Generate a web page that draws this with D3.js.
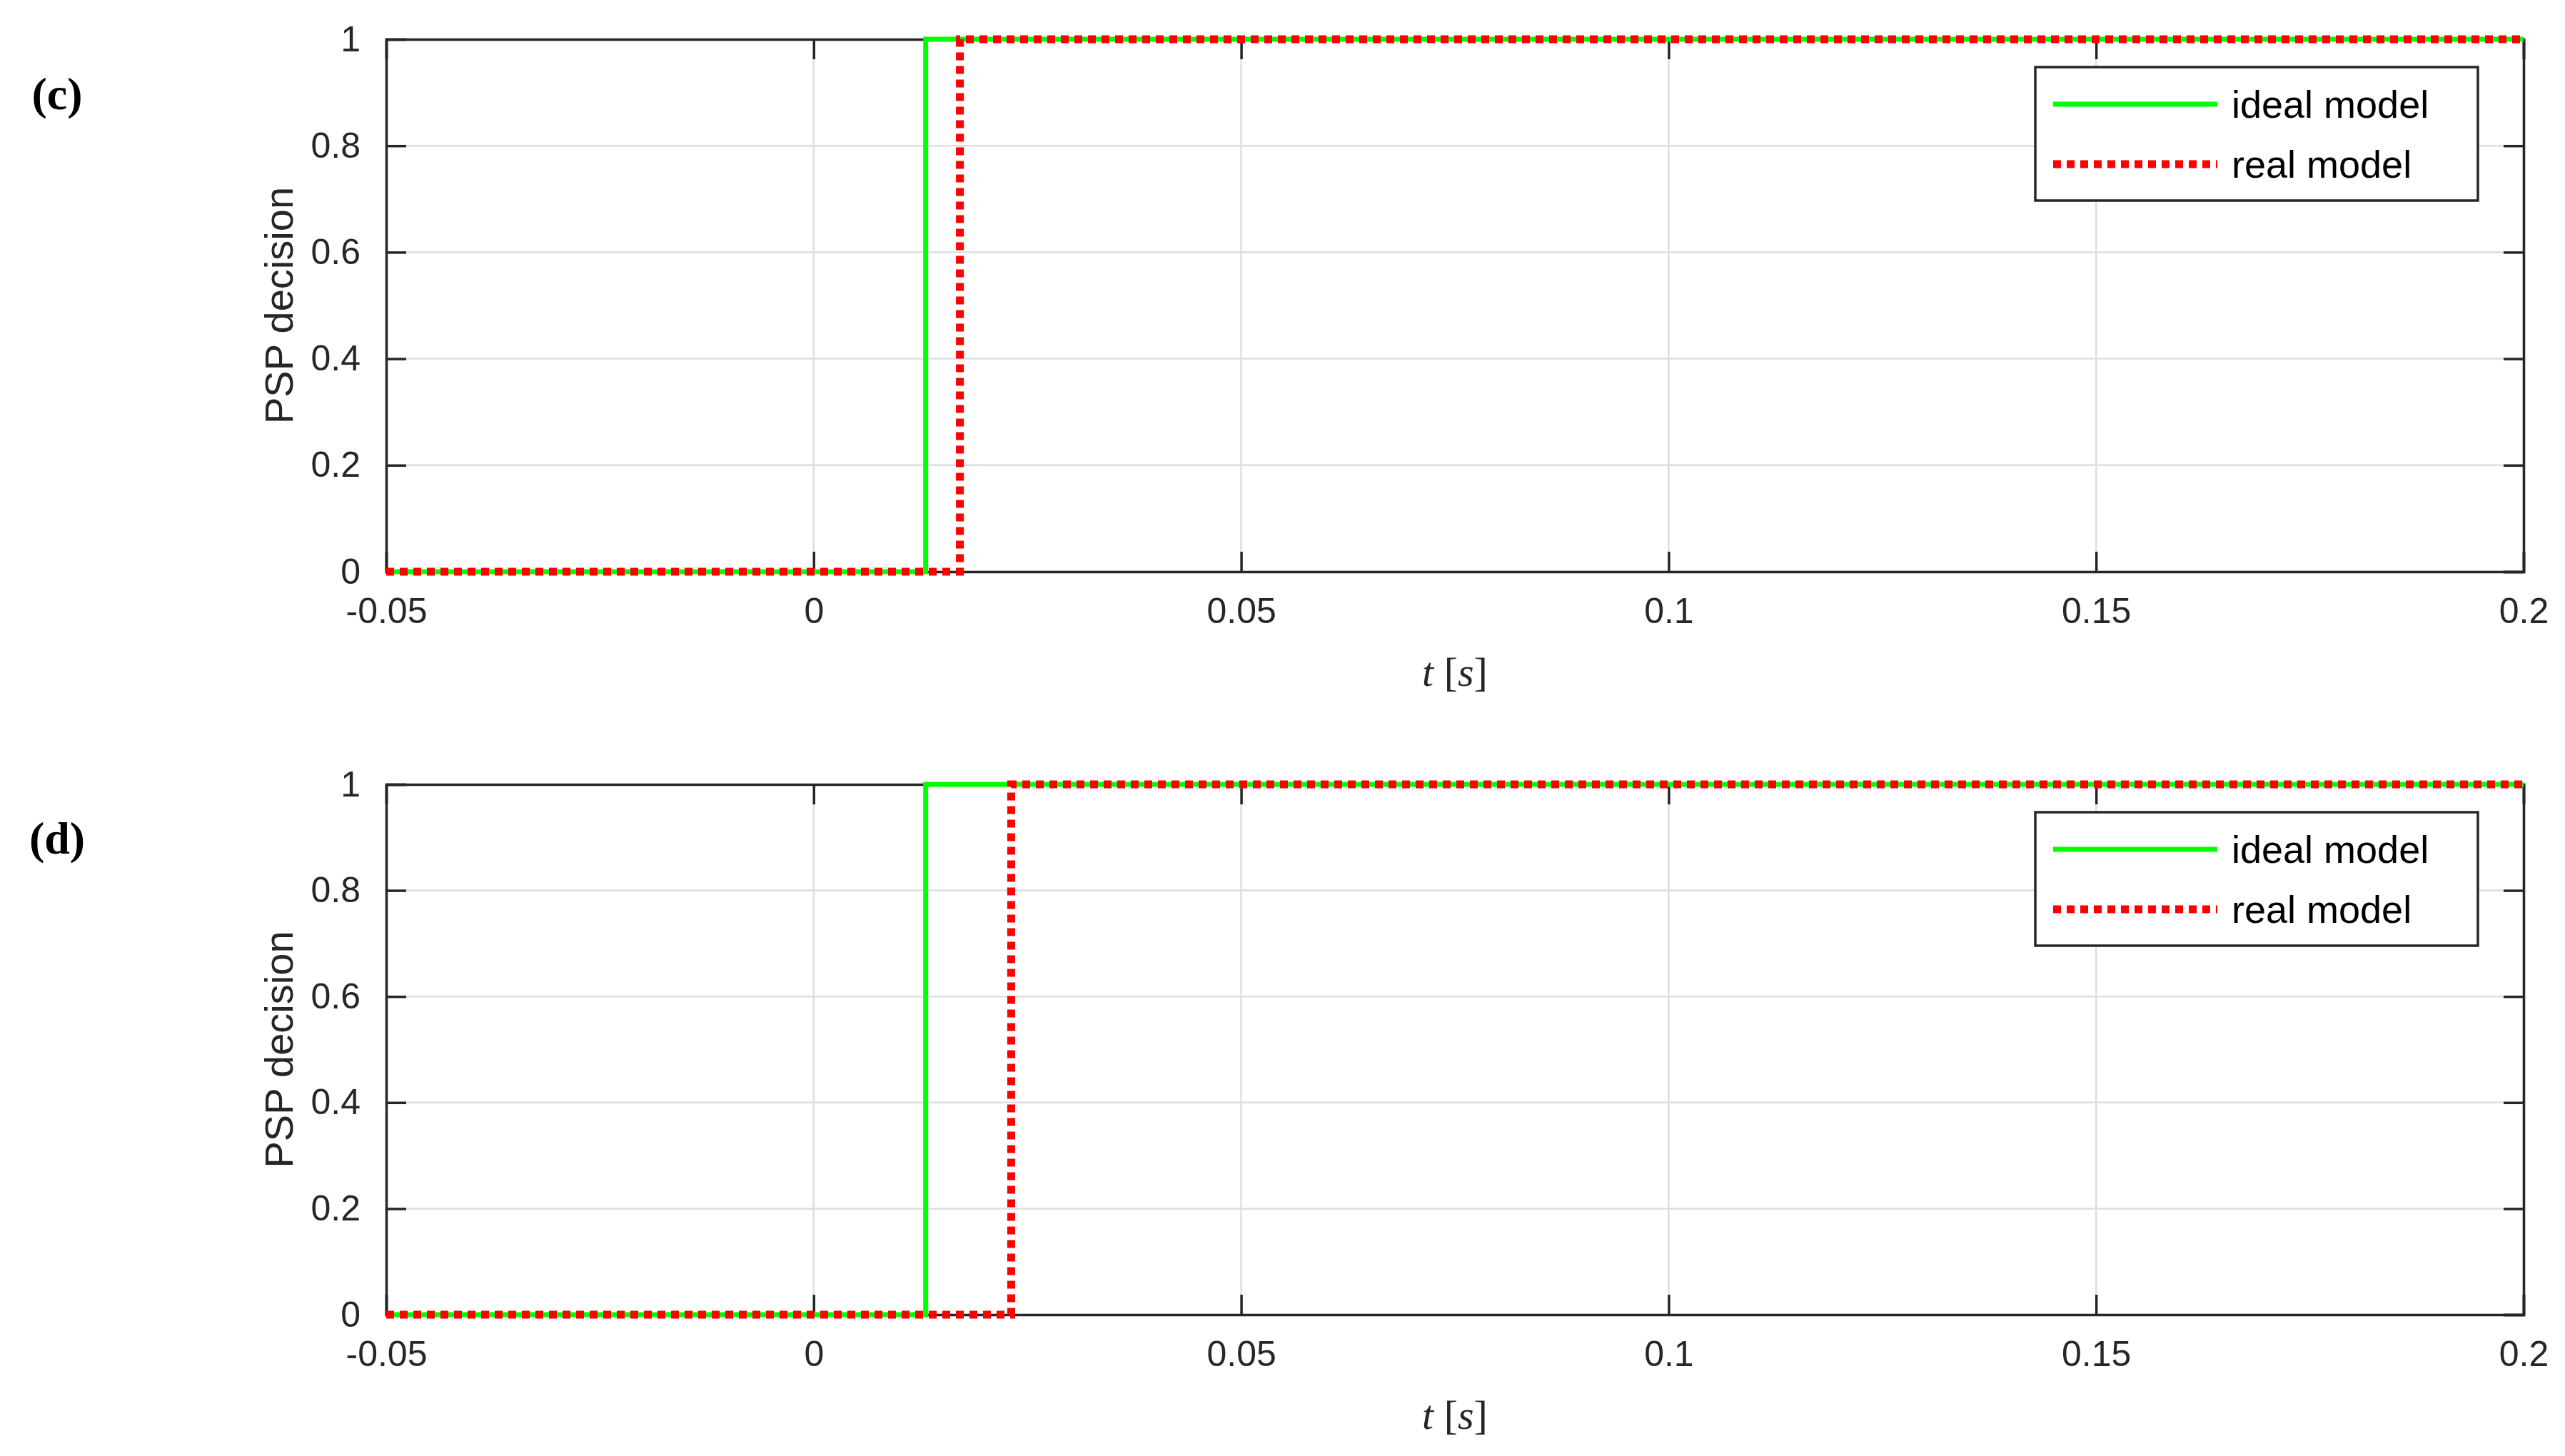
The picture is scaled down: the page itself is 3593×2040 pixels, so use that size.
<!DOCTYPE html>
<html><head><meta charset="utf-8">
<script src="https://cdn.jsdelivr.net/npm/d3@7"></script>
<style>body{margin:0;background:#fff}</style></head>
<body><svg id="c" width="3593" height="2040"></svg>
<script>
const xTicks=[-0.05,0,0.05,0.1,0.15,0.2];
const yTicks=[0,0.2,0.4,0.6,0.8,1];
const panelLabels=["(c)","(d)"];
const idealSwitch=[0.0131,0.0131];
const realSwitch=[0.0171,0.0231];
const seriesNames=["ideal model","real model"];

const svg=d3.select("#c");
const L=541,R=3535;
const panels=[{top:55,bot:801},{top:1099,bot:1842}];
const x=d3.scaleLinear().domain([-0.05,0.2]).range([L,R]);
const fmt=d=>d===0?"0":String(d).replace(/^(-?)0\./,"$10.");
panels.forEach((p,i)=>{
  const y=d3.scaleLinear().domain([0,1]).range([p.bot,p.top]);
  const g=svg.append("g");
  // grid
  g.selectAll(".gx").data(xTicks).join("line").attr("x1",d=>x(d)).attr("x2",d=>x(d)).attr("y1",p.top).attr("y2",p.bot).attr("stroke","#dedede").attr("stroke-width",2.5);
  g.selectAll(".gy").data(yTicks).join("line").attr("y1",d=>y(d)).attr("y2",d=>y(d)).attr("x1",L).attr("x2",R).attr("stroke","#dedede").attr("stroke-width",2.5);
  // axes
  const ax=g.append("g").attr("transform",`translate(0,${p.bot})`).call(d3.axisBottom(x).tickValues(xTicks).tickSize(-28).tickPadding(36).tickFormat(fmt));
  const axT=g.append("g").attr("transform",`translate(0,${p.top})`).call(d3.axisTop(x).tickValues(xTicks).tickSize(-28).tickFormat(""));
  const ay=g.append("g").attr("transform",`translate(${L},0)`).call(d3.axisLeft(y).tickValues(yTicks).tickSize(-28).tickPadding(36).tickFormat(d=>String(d)));
  const ayR=g.append("g").attr("transform",`translate(${R},0)`).call(d3.axisRight(y).tickValues(yTicks).tickSize(-28).tickFormat(""));
  [ax,axT,ay,ayR].forEach(a=>{a.selectAll("path,line").attr("stroke","#262626").attr("stroke-width",3.5);
    a.selectAll("text").attr("fill","#262626").attr("font-family","Liberation Sans, Arial").attr("font-size",50);});
  ax.selectAll("text").attr("dy","0.71em");
  // lines
  const line=d3.line().x(d=>x(d[0])).y(d=>y(d[1]));
  const gd=[[-0.05,0],[idealSwitch[i],0],[idealSwitch[i],1],[0.2,1]];
  const rd=[[-0.05,0],[realSwitch[i],0],[realSwitch[i],1],[0.2,1]];
  g.append("path").attr("d",line(gd)).attr("fill","none").attr("stroke","#00ff00").attr("stroke-width",7);
  g.append("path").attr("d",line(rd)).attr("fill","none").attr("stroke","#ff0000").attr("stroke-width",11).attr("stroke-dasharray","11 8");
  // labels
  svg.append("text").attr("x",80).attr("y",(p.top+p.bot)/2-275).attr("text-anchor","middle").attr("font-family","Liberation Serif").attr("font-weight","bold").attr("font-size",64).attr("fill","#000").text(panelLabels[i]);
  svg.append("text").attr("transform",`translate(410,${(p.top+p.bot)/2}) rotate(-90)`).attr("text-anchor","middle").attr("font-family","Liberation Sans, Arial").attr("font-size",56).attr("fill","#262626").text("PSP decision");
  const xl=svg.append("text").attr("x",(L+R)/2).attr("y",p.bot+160).attr("text-anchor","middle").attr("font-family","Liberation Serif").attr("font-size",58).attr("fill","#262626");
  xl.append("tspan").attr("font-style","italic").text("t");
  xl.append("tspan").text(" [");
  xl.append("tspan").attr("font-style","italic").text("s");
  xl.append("tspan").text("]");
  // legend
  const lx=2851,ly=p.top+39,lw=620,lh=187;
  const lg=svg.append("g");
  lg.append("rect").attr("x",lx).attr("y",ly).attr("width",lw).attr("height",lh).attr("fill","#fff").attr("stroke","#262626").attr("stroke-width",3.5);
  const items=[{n:seriesNames[0],c:"#00ff00",w:7,da:null},{n:seriesNames[1],c:"#ff0000",w:11,da:"11 8"}];
  items.forEach((it,k)=>{
    const yy=ly+52+k*84;
    lg.append("line").attr("x1",lx+25).attr("x2",lx+255).attr("y1",yy).attr("y2",yy).attr("stroke",it.c).attr("stroke-width",it.w).attr("stroke-dasharray",it.da);
    lg.append("text").attr("x",lx+275).attr("y",yy).attr("dy","0.35em").attr("font-family","Liberation Sans, Arial").attr("font-size",54).attr("fill","#000").text(it.n);
  });
});
</script></body></html>
